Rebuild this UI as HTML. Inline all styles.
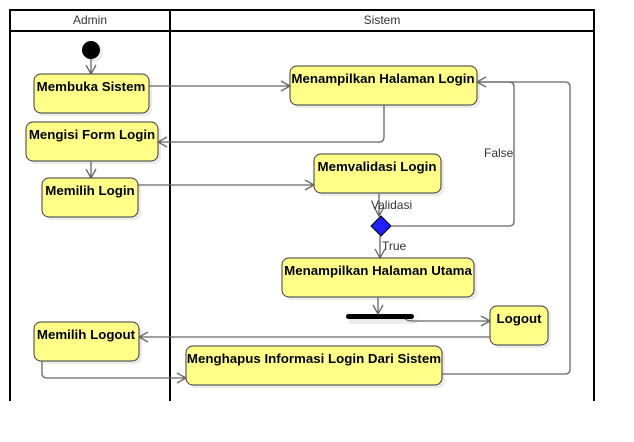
<!DOCTYPE html>
<html><head><meta charset="utf-8"><style>
html,body{margin:0;padding:0;background:#fff;width:634px;height:442px;overflow:hidden}
text{font-family:"Liberation Sans",sans-serif}
.n{fill:#ffff88;stroke:#36393d;stroke-width:1}
.s{fill:#000;opacity:.08}
.t{font-size:13.3px;font-weight:bold;fill:#000}
.e{fill:none;stroke:#666;stroke-width:1.3}
.l{font-size:12px;fill:#333}
</style></head><body>
<svg width="634" height="442" xmlns="http://www.w3.org/2000/svg">
<g stroke="#000" stroke-width="2" fill="none">
<path d="M10,401 V10 H594 V401"/>
<line x1="10" y1="31" x2="594" y2="31"/>
<line x1="170" y1="10" x2="170" y2="401"/>
</g>
<text x="90" y="24" font-size="12" text-anchor="middle" fill="#333">Admin</text>
<text x="382" y="24" font-size="12" text-anchor="middle" fill="#333">Sistem</text>

<circle cx="94" cy="53" r="9" class="s"/>
<circle cx="91" cy="50" r="9" fill="#000"/>

<g>
<rect x="37" y="77" width="115" height="39" rx="7" class="s"/>
<rect x="34" y="74" width="115" height="39" rx="7" class="n"/>
<text x="91" y="91" class="t" text-anchor="middle">Membuka Sistem</text>

<rect x="29" y="125" width="132" height="39" rx="7" class="s"/>
<rect x="26" y="122" width="132" height="39" rx="7" class="n"/>
<text x="92" y="139" class="t" text-anchor="middle">Mengisi Form Login</text>

<rect x="45" y="181" width="96" height="39" rx="7" class="s"/>
<rect x="42" y="178" width="96" height="39" rx="7" class="n"/>
<text x="90" y="195" class="t" text-anchor="middle">Memilih Login</text>

<rect x="37" y="325" width="105" height="39" rx="7" class="s"/>
<rect x="34" y="322" width="105" height="39" rx="7" class="n"/>
<text x="86" y="339" class="t" text-anchor="middle">Memilih Logout</text>

<rect x="293" y="69" width="187" height="39" rx="7" class="s"/>
<rect x="290" y="66" width="187" height="39" rx="7" class="n"/>
<text x="383" y="83" class="t" text-anchor="middle">Menampilkan Halaman Login</text>

<rect x="317" y="157" width="127" height="39" rx="7" class="s"/>
<rect x="314" y="154" width="127" height="39" rx="7" class="n"/>
<text x="377" y="171" class="t" text-anchor="middle">Memvalidasi Login</text>

<rect x="285" y="261" width="192" height="39" rx="7" class="s"/>
<rect x="282" y="258" width="192" height="39" rx="7" class="n"/>
<text x="378" y="275" class="t" text-anchor="middle">Menampilkan Halaman Utama</text>

<rect x="493" y="309" width="58" height="39" rx="7" class="s"/>
<rect x="490" y="306" width="58" height="39" rx="7" class="n"/>
<text x="519" y="323" class="t" text-anchor="middle">Logout</text>

<rect x="189" y="349" width="256" height="39" rx="7" class="s"/>
<rect x="186" y="346" width="256" height="39" rx="7" class="n"/>
<text x="314" y="363" class="t" text-anchor="middle">Menghapus Informasi Login Dari Sistem</text>
</g>

<rect x="349" y="319" width="68" height="5" class="s"/>
<rect x="346" y="314" width="68" height="5" rx="2.5" fill="#000"/>
<polygon points="381,216 391,226 381,236 371,226" fill="#2020ff" stroke="#000" stroke-width="1"/>

<g class="e">
<path d="M91,59 V74 M86,65 L91,74 L96,65"/>
<path d="M149,86 H290 M281,81 L290,86 L281,91"/>
<path d="M384,105 V137 Q384,142 379,142 H158 M167,137 L158,142 L167,147"/>
<path d="M91,161 V178 M86,169 L91,178 L96,169"/>
<path d="M138,185 H314 M305,180 L314,185 L305,190"/>
<path d="M379,193 V216 M374,207 L379,216 L384,207"/>
<path d="M391,226 H509 Q514,226 514,221 V87 Q514,82 509,82 H477 M486,77 L477,82 L486,87"/>
<path d="M380,236 V258 M375,249 L380,258 L385,249"/>
<path d="M378,297 V314 M373,305 L378,314 L383,305"/>
<path d="M405,319 Q408,321 413,321 H490 M481,316 L490,321 L481,326"/>
<path d="M490,337 H139 M148,332 L139,337 L148,342"/>
<path d="M42,361 V373 Q42,378 47,378 H186 M177,373 L186,378 L177,383"/>
<path d="M442,374 H565 Q570,374 570,369 V87 Q570,82 565,82 H477"/>
</g>
<text x="371" y="209" class="l">Validasi</text>
<text x="382" y="250" class="l">True</text>
<text x="484" y="157" class="l">False</text>
</svg>
</body></html>
